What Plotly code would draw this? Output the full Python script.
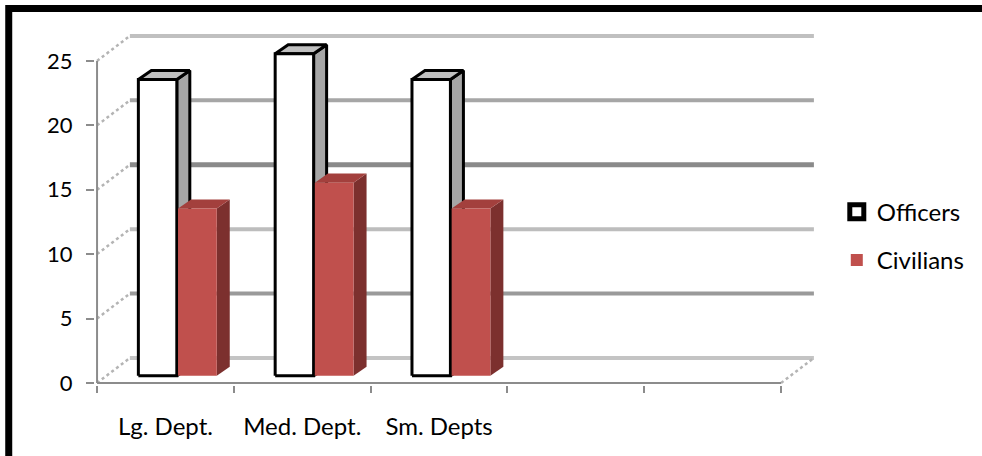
import plotly.graph_objects as go

# ---- data ----
categories = ["Lg. Dept.", "Med. Dept.", "Sm. Depts"]
n_slots = 5
officers = [23, 25, 23]
civilians = [13, 15, 13]
y_ticks = [0, 5, 10, 15, 20, 25]

# ---- 3D look parameters (in axis units) ----
BASE = 0.55          # bars sit a bit into the depth
DX, DY = 0.095, 0.70 # bar depth
WX, WY = 0.24, 1.94  # back wall offset
OFF_L, OFF_R = -0.198, 0.083
CIV_L, CIV_R = 0.092, 0.375

FONT = "Lato"
fig = go.Figure()

# back wall gridlines
grid_colors = {0: "#c4c4c4", 5: "#9a9a9a", 10: "#bdbdbd", 15: "#8a8a8a", 20: "#a6a6a6", 25: "#c0c0c0"}
grid_widths = {0: 4, 5: 4, 10: 4, 15: 5, 20: 4, 25: 4}
x_front_end = n_slots - 0.5
for v in y_ticks:
    fig.add_trace(go.Scatter(x=[-0.5 + WX, x_front_end + WX], y=[v + WY, v + WY], mode="lines",
                             line=dict(color=grid_colors[v], width=grid_widths[v]),
                             showlegend=False, hoverinfo="skip"))
    # left side wall diagonals
    fig.add_trace(go.Scatter(x=[-0.5, -0.5 + WX], y=[v, v + WY], mode="lines",
                             line=dict(color="#b4b4b4", width=2.5, dash="dot"),
                             showlegend=False, hoverinfo="skip"))
# floor right edge
fig.add_trace(go.Scatter(x=[x_front_end, x_front_end + WX], y=[0, WY], mode="lines",
                         line=dict(color="#b4b4b4", width=2.5, dash="dot"),
                         showlegend=False, hoverinfo="skip"))

# front axis lines
fig.add_trace(go.Scatter(x=[-0.5, -0.5], y=[0, 25], mode="lines",
                         line=dict(color="#8c8c8c", width=2), showlegend=False, hoverinfo="skip"))
fig.add_trace(go.Scatter(x=[-0.5, x_front_end], y=[0, 0], mode="lines",
                         line=dict(color="#8c8c8c", width=2), showlegend=False, hoverinfo="skip"))


def poly(xs, ys, fill, line_color, lw):
    fig.add_trace(go.Scatter(x=xs + [xs[0]], y=ys + [ys[0]], mode="lines", fill="toself",
                             fillcolor=fill, line=dict(color=line_color, width=lw),
                             showlegend=False, hoverinfo="skip"))


def box(xc, val, l, r, front, side, top, line_color, lw):
    L, R = xc + l, xc + r
    b, t = BASE, BASE + val
    poly([R, R, R + DX, R + DX], [b, t, t + DY, b + DY], side, line_color, lw)
    poly([L, R, R + DX, L + DX], [t, t, t + DY, t + DY], top, line_color, lw)
    poly([L, R, R, L], [b, b, t, t], front, line_color, lw)


for i in range(len(categories)):
    box(i, officers[i], OFF_L, OFF_R, "#ffffff", "#a6a6a6", "#c0c0c0", "#000000", 3)
    box(i, civilians[i], CIV_L, CIV_R, "#c0504d", "#7c302e", "#a3403d", "rgba(0,0,0,0)", 0)

# legend-only entries
fig.add_trace(go.Scatter(x=[None], y=[None], name="Officers", legendgroup="a", mode="markers",
                         marker=dict(symbol="square", size=14, color="#ffffff",
                                     line=dict(color="#000000", width=5))))
fig.add_trace(go.Bar(x=[None], y=[None], name="Civilians", legendgroup="b",
                     marker=dict(color="#c0504d", line=dict(width=0))))

W, H = 982, 456
fig.update_layout(
    width=W, height=H,
    margin=dict(l=95, r=152, t=30, b=71),
    paper_bgcolor="#ffffff", plot_bgcolor="#ffffff",
    font=dict(family=FONT, size=24, color="#000000"),
    legend=dict(x=1.012, y=0.55, xanchor="left", yanchor="top", tracegroupgap=14,
                font=dict(family=FONT, size=24, color="#000000"), bgcolor="rgba(0,0,0,0)"),
    showlegend=True,
    xaxis=dict(range=[-0.515, 4.843], showgrid=False, zeroline=False, showline=False,
               tickmode="array", tickvals=list(range(len(categories))), ticktext=categories,
               ticks="", ticklabelstandoff=25, tickfont=dict(family=FONT, size=24),
               minor=dict(tickmode="array", tickvals=[k - 0.5 for k in range(n_slots + 1)],
                          ticks="outside", ticklen=7, tickwidth=2, tickcolor="#8c8c8c", showgrid=False),
               fixedrange=True),
    yaxis=dict(range=[-0.16, 27.4], showgrid=False, zeroline=False, showline=False,
               tickmode="array", tickvals=y_ticks, ticks="outside", ticklen=8, tickwidth=2,
               tickcolor="#8c8c8c", ticklabelstandoff=9, tickfont=dict(family=FONT, size=22),
               fixedrange=True),
    shapes=[dict(type="rect", xref="paper", yref="paper",
                 x0=(8.5 - 95) / 735, x1=(1000 - 95) / 735,
                 y0=(385 - 480) / 355, y1=(385 - 8.5) / 355,
                 line=dict(color="#000000", width=7), fillcolor="rgba(0,0,0,0)", layer="above")],
)

fig.write_html("out.html")
